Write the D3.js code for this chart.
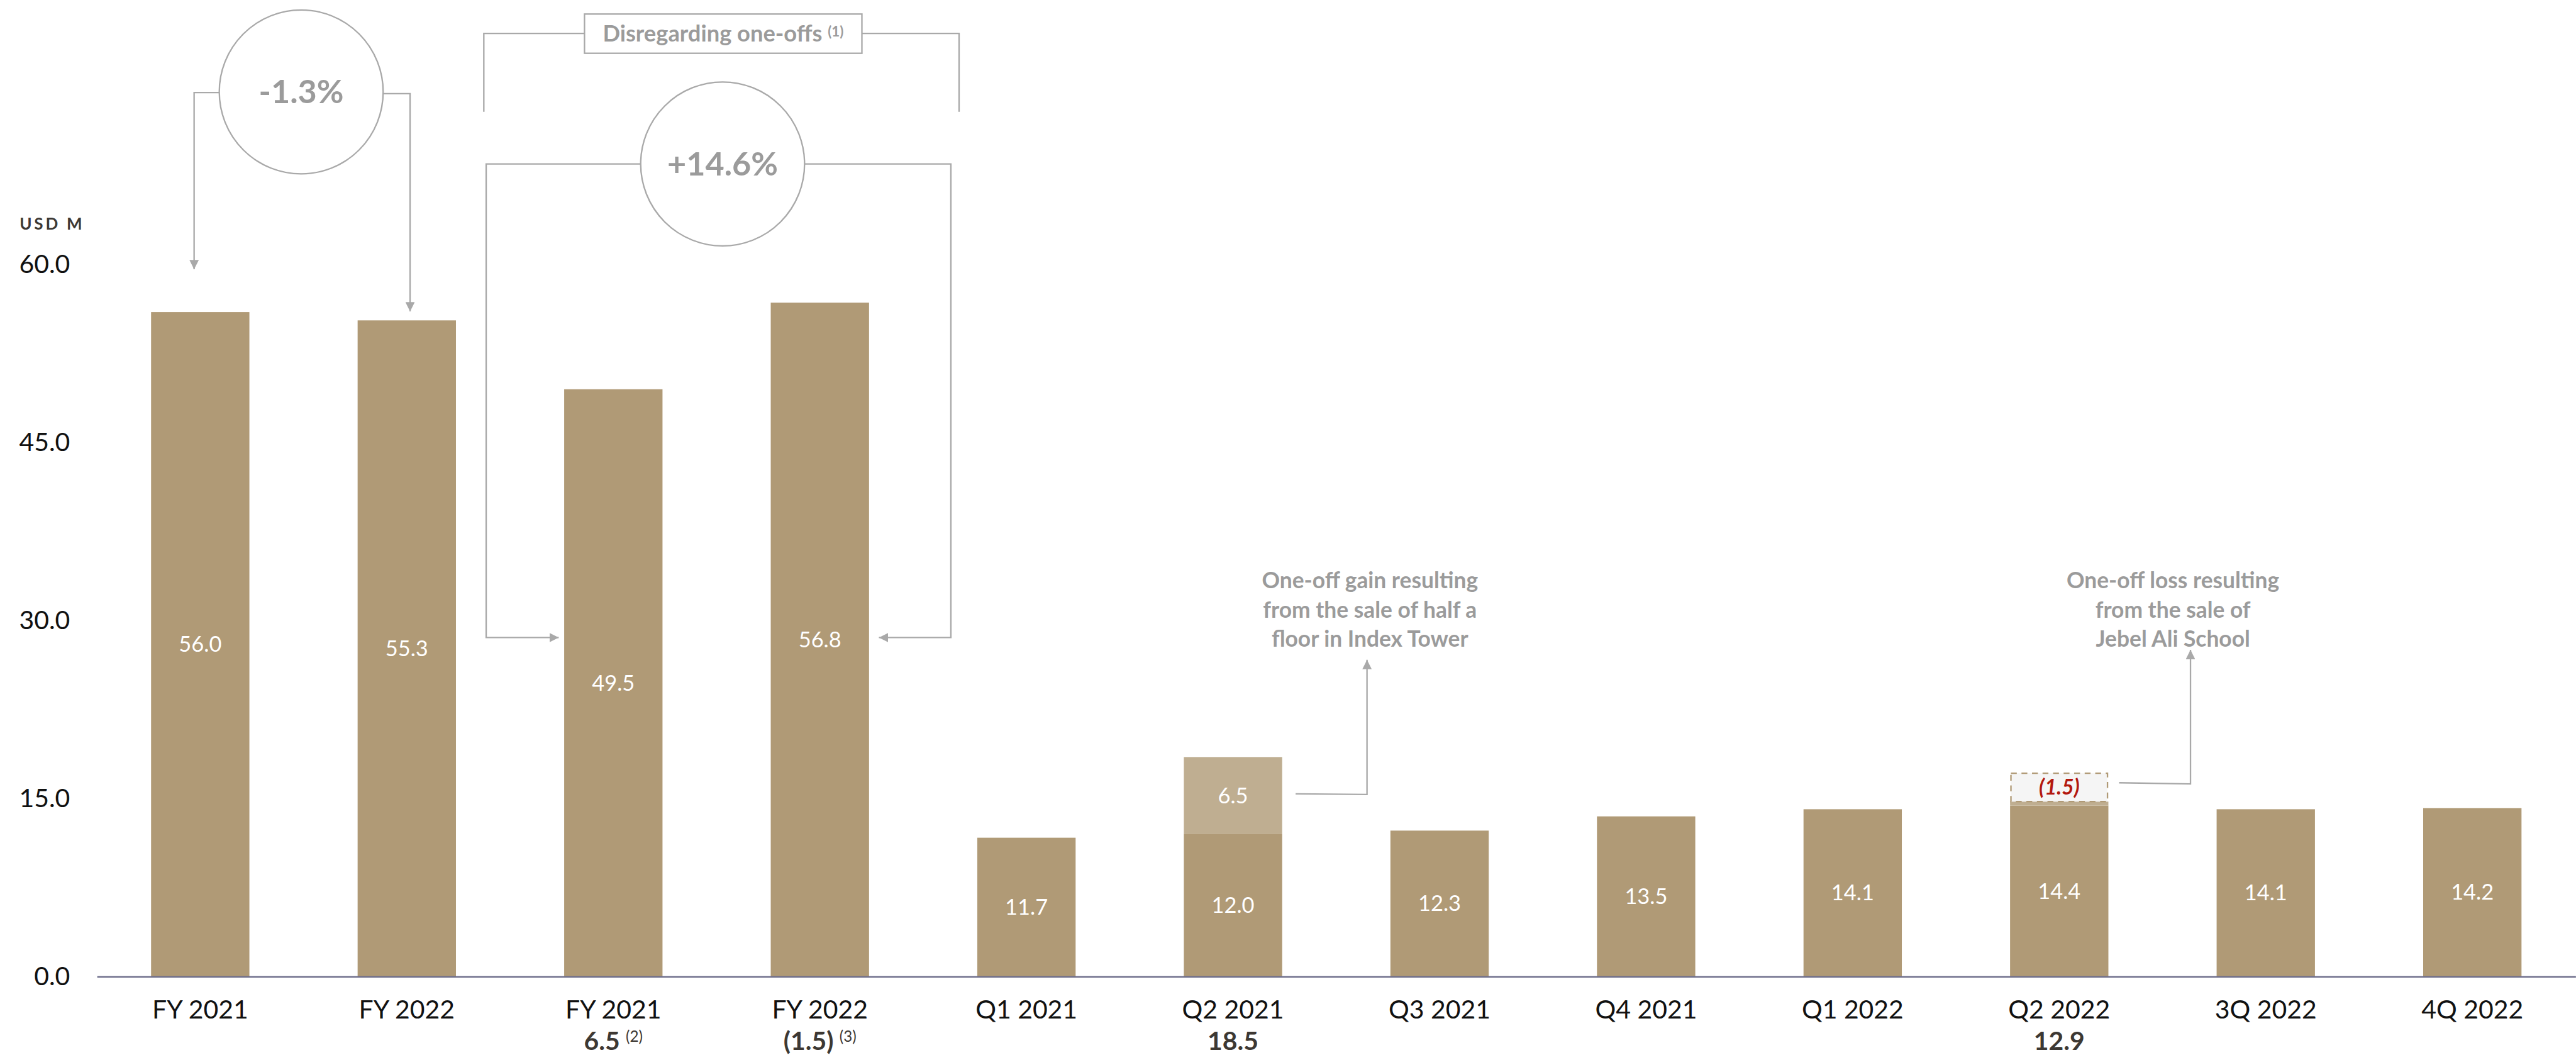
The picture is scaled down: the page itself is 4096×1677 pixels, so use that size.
<!DOCTYPE html>
<html>
<head>
<meta charset="utf-8">
<script src="https://cdn.jsdelivr.net/npm/d3@7"></script>
<style>
    html, body { margin: 0; padding: 0; background: #fff; overflow: hidden; }
    svg { display: block; font-family: Lato, "Open Sans", sans-serif; }
</style>
</head>
<body>
<div id="chart"></div>
<script>
// ---- data ----
const categories = ["FY 2021", "FY 2022", "FY 2021", "FY 2022", "Q1 2021", "Q2 2021",
                    "Q3 2021", "Q4 2021", "Q1 2022", "Q2 2022", "3Q 2022", "4Q 2022"];
const baseValues = [56.0, 55.3, 49.5, 56.8, 11.7, 12.0, 12.3, 13.5, 14.1, 14.4, 14.1, 14.2];
const gainValues = [0, 0, 0, 0, 0, 6.5, 0, 0, 0, 0, 0, 0];
const lossValues = [0, 0, 0, 0, 0, 0, 0, 0, 0, 1.5, 0, 0];
const subValues  = ["", "", "6.5", "(1.5)", "", "18.5", "", "", "", "12.9", "", ""];
const subNotes   = ["", "", "(2)", "(3)", "", "", "", "", "", "", "", ""];
const yTicks = [0, 15, 30, 45, 60];
const unitLabel = "USD M";
const changeLabels = ["-1.3%", "+14.6%"];
const bracketLabel = "Disregarding one-offs";
const bracketNote = "(1)";
const gainNote = ["One-off gain resulting", "from the sale of half a", "floor in Index Tower"];
const lossNote = ["One-off loss resulting", "from the sale of", "Jebel Ali School"];

class OneOffChart {

    constructor(parentElement) {
        this.parentElement = parentElement;
        this.initVis();
    }

    initVis() {
        let vis = this;

        // drawn in the reference's own 4400x1802 space, scaled down by the viewBox
        vis.W = 4400;
        vis.H = 1802;
        vis.colors = {
            bar: "#b09a76",
            light: "#bfae91",
            line: "#a9a9a9",
            note: "#9b9b9b",
            axis: "#6f6f8c",
            dark: "#3d3833",
            red: "#b3180f"
        };

        vis.svg = d3.select(`#${vis.parentElement}`).append("svg")
            .attr("width", 4096)
            .attr("height", 1677)
            .attr("viewBox", `0 0 ${vis.W} ${vis.H}`);

        const defs = vis.svg.append("defs");
        defs.append("marker")
            .attr("id", "arrow")
            .attr("viewBox", "0 0 10 10")
            .attr("refX", 10)
            .attr("refY", 5)
            .attr("markerWidth", 16)
            .attr("markerHeight", 16)
            .attr("markerUnits", "userSpaceOnUse")
            .attr("orient", "auto")
            .append("path")
            .attr("d", "M0,0L10,5L0,10Z")
            .attr("fill", vis.colors.line);

        // Scales
        vis.x = d3.scaleBand()
            .domain(d3.range(categories.length))
            .range([165, 4400])
            .paddingInner(0.524)
            .paddingOuter(0.262);

        vis.y = d3.scaleLinear()
            .domain([0, 60])
            .range([1668, 452]);

        vis.updateVis();
    }

    updateVis() {
        let vis = this;
        const x = vis.x, y = vis.y, c = vis.colors;
        const bw = x.bandwidth();
        const idx = d3.range(categories.length);

        // Base bars
        vis.svg.selectAll(".bar")
            .data(idx)
            .enter().append("rect")
            .attr("class", "bar")
            .attr("x", i => x(i))
            .attr("y", i => y(baseValues[i]))
            .attr("width", bw)
            .attr("height", i => y(0) - y(baseValues[i]))
            .attr("fill", c.bar);

        // One-off gain segment stacked on top
        const gains = idx.filter(i => gainValues[i] > 0);
        vis.svg.selectAll(".gain")
            .data(gains)
            .enter().append("rect")
            .attr("class", "gain")
            .attr("x", i => x(i))
            .attr("y", i => y(baseValues[i] + gainValues[i]))
            .attr("width", bw)
            .attr("height", i => y(baseValues[i]) - y(baseValues[i] + gainValues[i]))
            .attr("fill", c.light);

        // One-off loss: dashed hollow box above the bar
        const losses = idx.filter(i => lossValues[i] > 0);
        losses.forEach(i => {
            const bottom = y(baseValues[i]);
            const top = y(baseValues[i] + lossValues[i]) - 25;
            vis.svg.append("rect")
                .attr("x", x(i))
                .attr("y", bottom - 7)
                .attr("width", bw)
                .attr("height", 7)
                .attr("fill", c.light);
            vis.svg.append("rect")
                .attr("x", x(i) + 1.5)
                .attr("y", top)
                .attr("width", bw - 3)
                .attr("height", bottom - 7 - top)
                .attr("fill", "#f5f5f5")
                .attr("stroke", c.bar)
                .attr("stroke-width", 2.5)
                .attr("stroke-dasharray", "10,8");
            vis.svg.append("text")
                .attr("x", x(i) + bw / 2)
                .attr("y", (top + bottom - 7) / 2)
                .attr("dy", "0.35em")
                .attr("text-anchor", "middle")
                .attr("fill", c.red)
                .style("font-size", "36px")
                .style("font-weight", "bold")
                .style("font-style", "italic")
                .text(`(${lossValues[i].toFixed(1)})`);
        });

        // Value labels inside bars
        vis.svg.selectAll(".val")
            .data(idx)
            .enter().append("text")
            .attr("class", "val")
            .attr("x", i => x(i) + bw / 2)
            .attr("y", i => (y(0) + y(baseValues[i])) / 2)
            .attr("dy", "0.35em")
            .attr("text-anchor", "middle")
            .attr("fill", "#fff")
            .style("font-size", "37px")
            .text(i => baseValues[i].toFixed(1));

        vis.svg.selectAll(".gainval")
            .data(gains)
            .enter().append("text")
            .attr("class", "gainval")
            .attr("x", i => x(i) + bw / 2)
            .attr("y", i => (y(baseValues[i]) + y(baseValues[i] + gainValues[i])) / 2)
            .attr("dy", "0.35em")
            .attr("text-anchor", "middle")
            .attr("fill", "#fff")
            .style("font-size", "37px")
            .text(i => gainValues[i].toFixed(1));

        // Y axis (labels only)
        const yAxis = vis.svg.append("g")
            .attr("transform", "translate(119,0)")
            .call(d3.axisLeft(y)
                .tickValues(yTicks)
                .tickSize(0)
                .tickPadding(0)
                .tickFormat(d3.format(".1f")));
        yAxis.select(".domain").remove();
        yAxis.selectAll("text")
            .attr("fill", "#111")
            .style("font-family", "Lato, sans-serif")
            .style("font-size", "44px");

        vis.svg.append("text")
            .attr("x", 33)
            .attr("y", 392)
            .attr("fill", c.dark)
            .style("font-size", "28px")
            .style("font-weight", "bold")
            .style("letter-spacing", "4px")
            .text(unitLabel);

        // X axis
        const xAxis = vis.svg.append("g")
            .attr("transform", `translate(0,${y(0)})`)
            .call(d3.axisBottom(x)
                .tickSize(0)
                .tickSizeOuter(0)
                .tickPadding(40)
                .tickFormat(i => categories[i]));
        xAxis.select(".domain")
            .attr("stroke", c.axis)
            .attr("stroke-width", 2.5);
        xAxis.selectAll("text")
            .attr("fill", "#111")
            .style("font-family", "Lato, sans-serif")
            .style("font-size", "44px");

        // Second line under the category: totals incl. one-offs
        const subs = vis.svg.selectAll(".sub")
            .data(idx.filter(i => subValues[i] !== ""))
            .enter().append("text")
            .attr("class", "sub")
            .attr("x", i => x(i) + bw / 2)
            .attr("y", 1793)
            .attr("text-anchor", "middle")
            .attr("fill", c.dark);
        subs.append("tspan")
            .style("font-size", "44px")
            .style("font-weight", "bold")
            .text(i => subValues[i]);
        subs.filter(i => subNotes[i] !== "").append("tspan")
            .attr("dx", 10)
            .attr("dy", -14)
            .style("font-size", "26px")
            .text(i => subNotes[i]);

        vis.drawAnnotations();
    }

    drawAnnotations() {
        let vis = this;
        const c = vis.colors;
        const line = d3.line();

        const path = (pts, arrow) => {
            const p = vis.svg.append("path")
                .attr("d", line(pts))
                .attr("fill", "none")
                .attr("stroke", c.line)
                .attr("stroke-width", 2.5);
            if (arrow) p.attr("marker-end", "url(#arrow)");
        };

        const bubble = (cx, cy, label) => {
            vis.svg.append("circle")
                .attr("cx", cx)
                .attr("cy", cy)
                .attr("r", 140)
                .attr("fill", "#fff")
                .attr("stroke", c.line)
                .attr("stroke-width", 2.5);
            vis.svg.append("text")
                .attr("x", cx)
                .attr("y", cy)
                .attr("dy", "0.35em")
                .attr("text-anchor", "middle")
                .attr("fill", c.note)
                .style("font-size", "56px")
                .style("font-weight", "bold")
                .text(label);
        };

        // -1.3% : FY 2021 vs FY 2022
        path([[374, 158], [331, 158], [331, 460]], true);
        path([[654, 160], [700, 160], [700, 532]], true);
        bubble(514, 157, changeLabels[0]);

        // Disregarding one-offs bracket
        path([[998, 57], [826, 57], [826, 191]], false);
        path([[1472, 57], [1638, 57], [1638, 191]], false);
        vis.svg.append("rect")
            .attr("x", 998)
            .attr("y", 24)
            .attr("width", 474)
            .attr("height", 67)
            .attr("fill", "#fff")
            .attr("stroke", c.line)
            .attr("stroke-width", 2.5);
        const bt = vis.svg.append("text")
            .attr("x", 1235)
            .attr("y", 71)
            .attr("text-anchor", "middle")
            .attr("fill", c.note)
            .style("font-weight", "bold");
        bt.append("tspan").style("font-size", "39px").text(bracketLabel + " ");
        bt.append("tspan").attr("dy", -9).style("font-size", "24px").text(bracketNote);

        // +14.6% : FY 2021 vs FY 2022 disregarding one-offs
        path([[1094, 280], [830, 280], [830, 1089], [954, 1089]], true);
        path([[1374, 280], [1624, 280], [1624, 1089], [1501, 1089]], true);
        bubble(1234, 280, changeLabels[1]);

        // One-off call-outs
        const note = (cx, lines) => {
            const t = vis.svg.append("text")
                .attr("text-anchor", "middle")
                .attr("fill", c.note)
                .style("font-size", "38px")
                .style("font-weight", "bold");
            lines.forEach((s, k) => {
                t.append("tspan").attr("x", cx).attr("y", 1005 + k * 50).text(s);
            });
        };
        path([[2213, 1356], [2335, 1357], [2335, 1127]], true);
        note(2340, gainNote);
        path([[3620, 1337], [3742, 1339], [3742, 1110]], true);
        note(3712, lossNote);
    }
}

new OneOffChart("chart");
</script>
</body>
</html>
